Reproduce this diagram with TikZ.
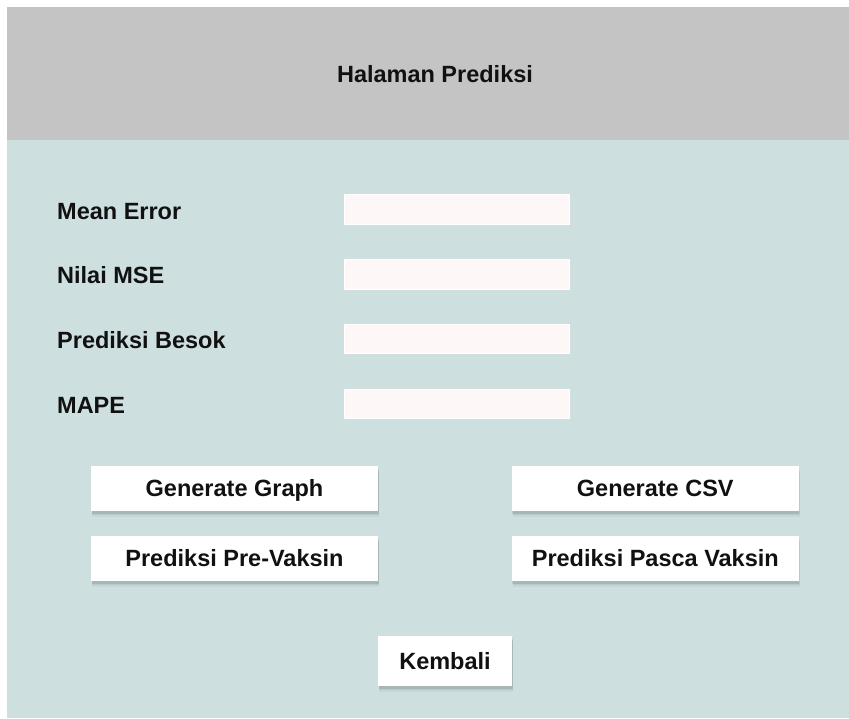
\documentclass[tikz,border=0pt]{standalone}
\usepackage{fontspec}
\setmainfont{Liberation Sans}
\usetikzlibrary{shadows}
\definecolor{headgray}{HTML}{C4C4C4}
\definecolor{panelteal}{HTML}{CDDFDF}
\definecolor{fieldfill}{HTML}{FDF8F7}
\definecolor{ink}{HTML}{111111}
\tikzset{
  txt/.style={font=\bfseries\fontsize{23.5}{28}\selectfont, text=ink},
  lbl/.style={txt, anchor=base west, inner sep=0pt},
  field/.style={fill=fieldfill, draw=white, line width=0.6pt, minimum width=225, minimum height=29.5, inner sep=0pt},
  btn/.style={txt, fill=white, inner sep=0pt, text height=16.8pt, text depth=0pt,
    general shadow={fill=black, opacity=0.04, shadow xshift=1pt, shadow yshift=-5.5pt},
    general shadow={fill=black, opacity=0.06, shadow xshift=1pt, shadow yshift=-4pt},
    general shadow={fill=black, opacity=0.09, shadow xshift=0.5pt, shadow yshift=-2.5pt}},
  widebtn/.style={btn, minimum width=287, minimum height=45},
}
\begin{document}
\begin{tikzpicture}[x=1pt, y=-1pt]
\useasboundingbox (0,0) rectangle (849,718);
% page background and title bar
\fill[panelteal] (7,140) rectangle (849,718);
\fill[headgray] (7,7) rectangle (849,140);
\node[txt, text height=16.8pt, text depth=0pt, inner sep=0pt] (title) at (435,74) {Halaman Prediksi};

% result labels
\node[lbl] (lmean) at (57,219.3) {Mean Error};
\node[lbl] (lmse)  at (57,283.7) {Nilai MSE};
\node[lbl] (lbes)  at (57,348.3) {Prediksi Besok};
\node[lbl] (lmape) at (57,413.3) {MAPE};

% output fields
\node[field] (fmean) at (456.7,209.5) {};
\node[field] (fmse)  at (456.7,274.5) {};
\node[field] (fbes)  at (456.7,339) {};
\node[field] (fmape) at (456.7,403.7) {};

% action buttons
\node[widebtn] (graph) at (234.5,488.5) {Generate Graph};
\node[widebtn] (pre)   at (234.5,558.5) {Prediksi Pre-Vaksin};
\node[widebtn] (csv)   at (655.3,488.5) {Generate CSV};
\node[widebtn] (pasca) at (655.3,558.5) {Prediksi Pasca Vaksin};
\node[btn, minimum width=134, minimum height=50] (back) at (445,661) {Kembali};
\end{tikzpicture}
\end{document}
